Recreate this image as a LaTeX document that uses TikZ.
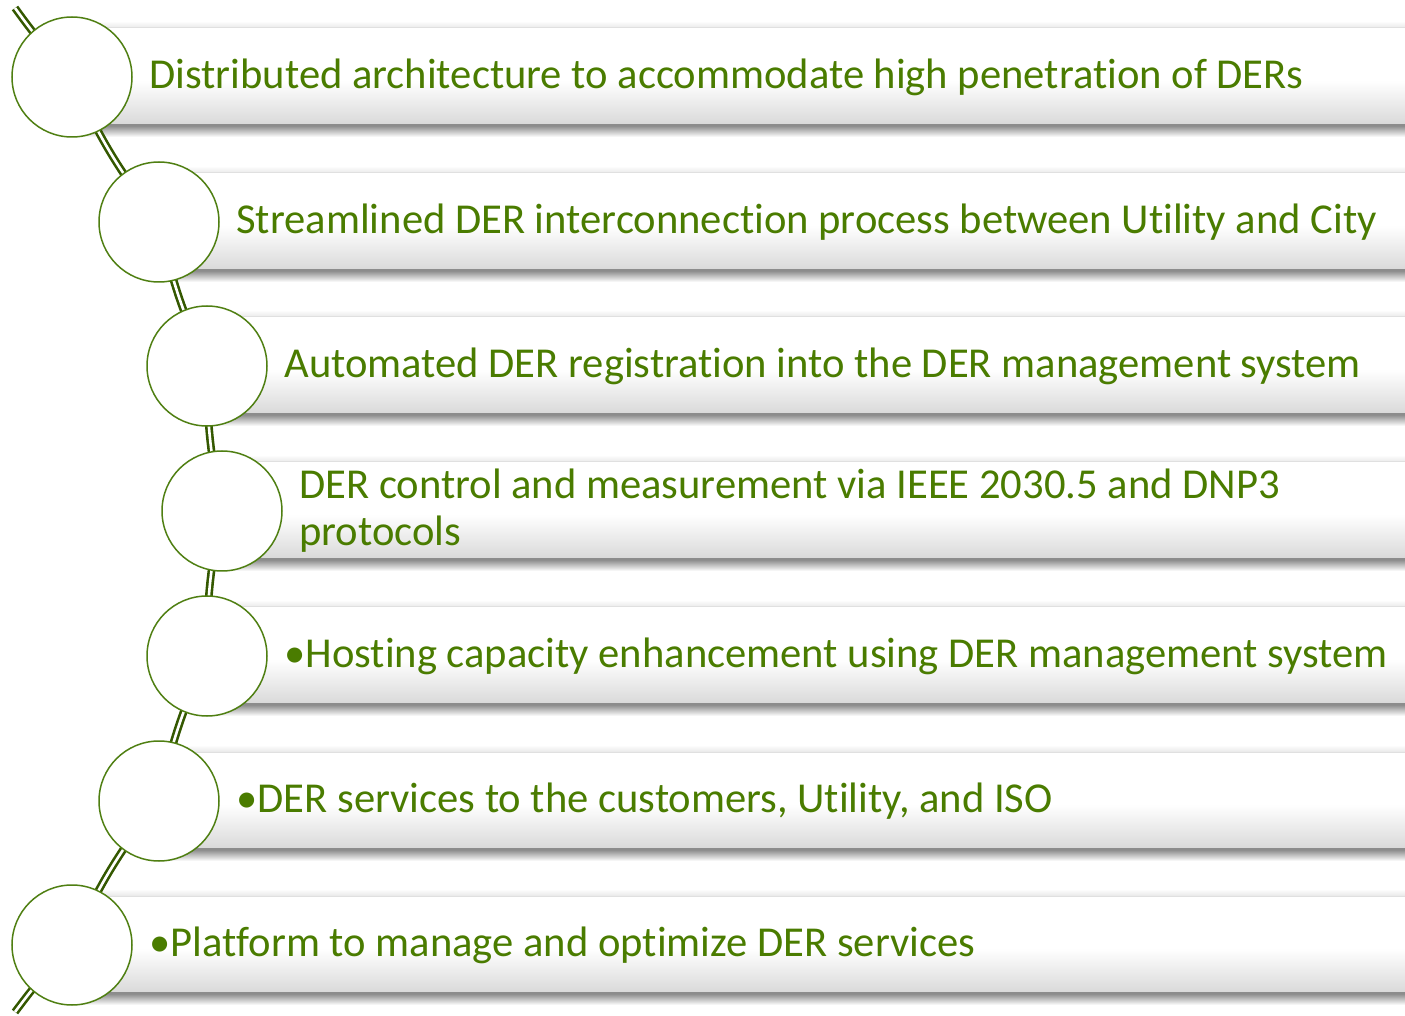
\documentclass[tikz,border=0pt]{standalone}
\usepackage{fontspec}
\setmainfont[RawFeature=-liga]{Carlito}
\definecolor{txtgreen}{HTML}{4A7C00}
\definecolor{ringgreen}{HTML}{4F7F12}
\definecolor{spinegreen}{HTML}{345800}
\pgfdeclareverticalshading{barshade}{100bp}{color(0bp)=(black!15); color(25bp)=(black!15); color(48bp)=(white); color(100bp)=(white)}
\tikzset{
  ring/.style={circle, draw=ringgreen, line width=0.75pt, fill=white, minimum size=60pt, inner sep=0pt},
  barbody/.style={shading=barshade},
  shadowlow/.style={top color=black!48, bottom color=white},
  shadowhigh/.style={top color=white, bottom color=black!9},
  bartext/.style={anchor=west, text=txtgreen, font=\fontsize{21.3}{23.5}\selectfont, inner sep=0pt, align=left},
  spine/.style={draw=spinegreen, line width=1.3pt, double=white, double distance=1.3pt}
}
\begin{document}
\begin{tikzpicture}[x=0.5pt,y=-0.5pt]
\useasboundingbox[fill=white] (0,0) rectangle (1405,1016);
% bars
\foreach \cx/\cy in {72/77, 159/222, 207/366, 222/511, 207/656, 159/801, 72/945} {
  \shade[shadowhigh] (\cx,\cy-56) rectangle (1405,\cy-49);
  \shade[shadowlow] (\cx,\cy+48) rectangle (1405,\cy+60);
  \shade[barbody] (\cx,\cy-49) rectangle (1405,\cy+48);
  \draw[black!12, line width=0.5pt] (\cx,\cy-49) -- (1405,\cy-49);
  \draw[black!45, line width=0.8pt] (\cx,\cy+48) -- (1405,\cy+48);
}
% circle positions
\foreach \i/\cx/\cy in {1/72/77, 2/159/222, 3/207/366, 4/222/511, 5/207/656, 6/159/801, 7/72/945} {
  \coordinate (p\i) at (\cx,\cy);
}
\coordinate (top) at (15,8);
\coordinate (bottom) at (15,1012);
% spine
\draw[spine] (top) to[bend right=3.7] (p1);
\draw[spine] (p1) to[bend right=7] (p2);
\draw[spine] (p2) to[bend right=6.2] (p3);
\draw[spine] (p3) to[bend right=6] (p4);
\draw[spine] (p4) to[bend right=6] (p5);
\draw[spine] (p5) to[bend right=6.2] (p6);
\draw[spine] (p6) to[bend right=7] (p7);
\draw[spine] (p7) to[bend right=3.7] (bottom);
\foreach \i in {1,...,7} {
  \node[ring] (c\i) at (p\i) {};
}
% texts
\node[bartext] (t1) at (149,77) {Distributed architecture to accommodate high penetration of DERs};
\node[bartext] (t2) at (236,222) {Streamlined DER interconnection process between Utility and City};
\node[bartext] (t3) at (284,366) {Automated DER registration into the DER management system};
\node[bartext] (t4) at (299,511) {DER control and measurement via IEEE 2030.5 and DNP3\\protocols};
\node[bartext] (t5) at (284,656) {•Hosting capacity enhancement using DER management system};
\node[bartext] (t6) at (236,801) {•DER services to the customers, Utility, and ISO};
\node[bartext] (t7) at (149,945) {•Platform to manage and optimize DER services};
\end{tikzpicture}
\end{document}
